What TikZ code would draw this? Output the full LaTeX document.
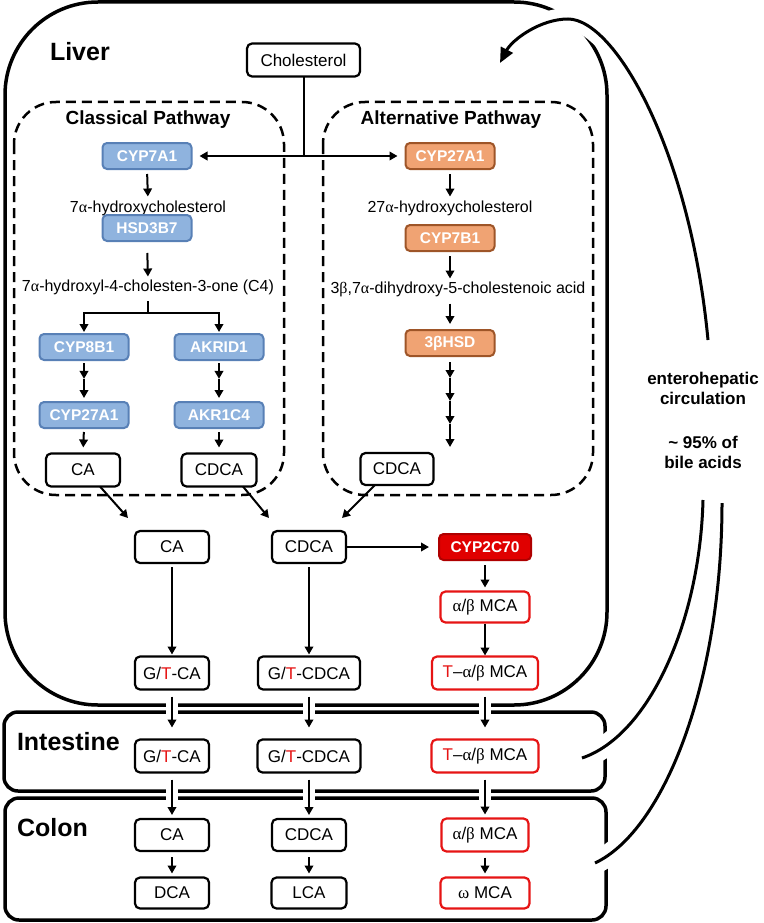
\documentclass[tikz,border=0pt]{standalone}
\usepackage{fontspec}
\setmainfont{Liberation Sans}
\newfontfamily\grkfont{Liberation Serif}
\usetikzlibrary{arrows.meta,calc}
\newcommand{\gal}{{\grkfont α}}
\newcommand{\gbe}{{\grkfont β}}
\newcommand{\gom}{{\grkfont ω}}
\definecolor{bluefill}{RGB}{143,179,222}
\definecolor{blueline}{RGB}{88,128,182}
\definecolor{orfill}{RGB}{240,163,115}
\definecolor{orline}{RGB}{158,85,40}
\definecolor{redfill}{RGB}{224,0,0}
\definecolor{redline}{RGB}{175,0,0}
\definecolor{redtext}{RGB}{230,20,20}
\begin{document}
\begin{tikzpicture}[x=1pt,y=-1pt,
  every node/.style={inner sep=0pt,outer sep=0pt},
  region/.style={line width=3.5pt},
  dashbox/.style={line width=2.5pt,dash pattern=on 10pt off 6pt,rounded corners=42pt},
  bx/.style={draw,line width=2.2pt,rounded corners=5pt,fill=white,minimum width=74pt,minimum height=32pt,font=\fontsize{17}{20}\selectfont},
  redbx/.style={bx,draw=redtext},
  enz/.style={draw,line width=2pt,rounded corners=4.5pt,minimum width=89pt,minimum height=26pt,text=white,font=\fontsize{15.5}{18}\selectfont\bfseries},
  enzB/.style={enz,fill=bluefill,draw=blueline},
  enzO/.style={enz,fill=orfill,draw=orline},
  enzR/.style={enz,fill=redfill,draw=redline,minimum width=92pt},
  txt/.style={font=\fontsize{16}{19}\selectfont},
  hdr/.style={font=\fontsize{25}{30}\selectfont\bfseries},
  subhdr/.style={font=\fontsize{19}{23}\selectfont\bfseries},
  circtxt/.style={font=\fontsize{17}{20}\selectfont\bfseries,align=center},
  line/.style={line width=2pt},
  arr/.style={line width=2pt,-{Triangle[length=8pt,width=8.5pt]}},
  varr/.style={arr,shorten <=5pt,shorten >=4pt},
  harr/.style={arr,preaction={draw=white,line width=12pt,-}},
  halo/.style={draw=white,line width=22pt},
  circ/.style={line width=3pt},
  circarr/.style={circ,-{Triangle[length=15pt,width=13pt]}}
]
\useasboundingbox (0,0) rectangle (763,923);

% regions
\draw[region,rounded corners=93pt] (5,2) rectangle (607,705);
\draw[region,rounded corners=14pt] (4,712) rectangle (605,791);
\draw[region,rounded corners=14pt] (5,798) rectangle (606,920);
\draw[dashbox] (14,102) rectangle (284,495);
\draw[dashbox] (323,102) rectangle (593,495);

% circulation curves
\coordinate (topStart) at (708,340);
\coordinate (topPeak) at (568,19);
\coordinate (topEnd) at (500,63);
\coordinate (intOut) at (582,758);
\coordinate (intEnd) at (703,500);
\coordinate (colOut) at (595,863);
\coordinate (colEnd) at (722,503);
\path[halo] (topStart) .. controls (690,150) and (615,19) .. (topPeak) .. controls (540,19) and (512,40) .. (topEnd);
\path[halo] (intOut) .. controls (650,735) and (700,620) .. (intEnd);
\path[halo] (colOut) .. controls (665,830) and (722,680) .. (colEnd);
\draw[circarr] (topStart) .. controls (690,150) and (615,19) .. (topPeak) .. controls (540,19) and (512,40) .. (topEnd);
\draw[circ] (intOut) .. controls (650,735) and (700,620) .. (intEnd);
\draw[circ] (colOut) .. controls (665,830) and (722,680) .. (colEnd);

\node[circtxt] (circA) at (703,388) {enterohepatic\\circulation};
\node[circtxt] (circB) at (703,452) {\textasciitilde{} 95\% of\\bile acids};

% headers
\node[hdr,anchor=base west] (liver) at (50,61) {Liver};
\node[hdr,anchor=base west] (intestine) at (17,750) {Intestine};
\node[hdr,anchor=base west] (colon) at (17,836) {Colon};
\node[subhdr] (classical) at (148,120) {Classical Pathway};
\node[subhdr] (alternative) at (451,120) {Alternative Pathway};

% top
\node[bx,minimum width=113pt,minimum height=33pt] (chol) at (303.5,60) {Cholesterol};
\coordinate (split) at (303.5,156);

% classical pathway
\node[enzB] (cyp7a1) at (147,156) {CYP7A1};
\node[txt] (h7) at (148,208) {7\gal-hydroxycholesterol};
\node[enzB] (hsd3b7) at (147,228) {HSD3B7};
\node[txt] (c4) at (148,287) {7\gal-hydroxyl-4-cholesten-3-one (C4)};
\coordinate (c4split) at (148,313);
\node[enzB] (cyp8b1) at (84,347) {CYP8B1};
\node[enzB] (akrid1) at (219,347) {AKRID1};
\node[enzB] (cyp27c) at (84,415) {CYP27A1};
\node[enzB] (akr1c4) at (219,415) {AKR1C4};
\node[bx,minimum height=33pt] (ca1) at (83,470) {CA};
\node[bx,minimum width=75pt,minimum height=33pt] (cdca1) at (219,470) {CDCA};

% alternative pathway
\node[enzO] (cyp27a) at (450,156) {CYP27A1};
\node[txt] (h27) at (450,208) {27\gal-hydroxycholesterol};
\node[enzO] (cyp7b1) at (450,238) {CYP7B1};
\node[txt] (acid) at (458,289) {3\gbe,7\gal-dihydroxy-5-cholestenoic acid};
\node[enzO] (hsd3b) at (450,343) {3βHSD};
\node[bx,minimum width=73pt] (cdca2) at (397,469) {CDCA};
\coordinate (a0) at ($(hsd3b.south)+(0,6)$);
\coordinate (a1) at (450,378);
\coordinate (a2) at (450,401);
\coordinate (a3) at (450,424);
\coordinate (a4) at (450,447);

% liver lower part
\node[bx] (ca2) at (172,547) {CA};
\node[bx] (cdca3) at (309,547) {CDCA};
\node[enzR] (cyp2c70) at (485,547) {CYP2C70};
\node[redbx,minimum width=89pt,minimum height=31pt] (mca1) at (485,607) {\gal/\gbe{} MCA};
\node[bx,minimum height=33pt] (gtca1) at (172,673) {G/\textcolor{redtext}{T}-CA};
\node[bx,minimum width=102pt,minimum height=33pt] (gtcdca1) at (309,673) {G/\textcolor{redtext}{T}-CDCA};
\node[redbx,minimum width=106pt,minimum height=33pt] (tmca1) at (485,673) {\textcolor{redtext}{T}–\gal/\gbe{} MCA};

% intestine
\node[bx,minimum height=33pt] (gtca2) at (172,756) {G/\textcolor{redtext}{T}-CA};
\node[bx,minimum width=103pt,minimum height=33pt] (gtcdca2) at (309,756) {G/\textcolor{redtext}{T}-CDCA};
\node[redbx,minimum width=107pt,minimum height=33pt] (tmca2) at (485,756) {\textcolor{redtext}{T}–\gal/\gbe{} MCA};

% colon
\node[bx] (ca3) at (172,835) {CA};
\node[bx] (cdca4) at (309,835) {CDCA};
\node[redbx,minimum width=87pt,minimum height=33pt] (mca2) at (485,835) {\gal/\gbe{} MCA};
\node[bx,minimum height=31pt] (dca) at (172,893) {DCA};
\node[bx,minimum width=75pt,minimum height=31pt] (lca) at (309,893) {LCA};
\node[redbx,minimum width=89pt,minimum height=31pt] (wmca) at (485,893) {\gom{} MCA};

% connectors: top
\draw[line] (chol.south) -- (split);
\draw[arr,shorten >=8pt] (split) -- (cyp7a1.east);
\draw[arr,shorten >=8pt] (split) -- (cyp27a.west);

% classical
\draw[varr] (cyp7a1.south) -- (h7.north);
\draw[varr,shorten <=12pt,shorten >=3pt] (hsd3b7.south) -- (c4.north);
\draw[line] ($(c4.south)+(0,7)$) -- (c4split);
\draw[arr,shorten >=2pt] (c4split) -| (cyp8b1.north);
\draw[arr,shorten >=2pt] (c4split) -| (akrid1.north);
\coordinate (m1) at ($(cyp8b1.south)!0.45!(cyp27c.north)$);
\coordinate (m2) at ($(akrid1.south)!0.45!(akr1c4.north)$);
\draw[arr,shorten <=3pt] (cyp8b1.south) -- (m1);
\draw[arr,shorten >=4pt] (m1) -- (cyp27c.north);
\draw[arr,shorten <=3pt] (akrid1.south) -- (m2);
\draw[arr,shorten >=4pt] (m2) -- (akr1c4.north);
\draw[arr,shorten <=4pt,shorten >=6pt] (cyp27c.south) -- (ca1.north);
\draw[arr,shorten <=4pt,shorten >=6pt] (akr1c4.south) -- (cdca1.north);

% alternative
\draw[varr] (cyp27a.south) -- (h27.north);
\draw[varr,shorten >=3pt] (cyp7b1.south) -- (cyp7b1.south |- acid.north);
\draw[varr,shorten <=7pt,shorten >=6pt] (hsd3b.north |- acid.south) -- (hsd3b.north);
\draw[arr] (a0) -- (a1);
\draw[arr] (a1) -- (a2);
\draw[arr] (a2) -- (a3);
\draw[arr] (a3) -- (a4);

% into lower liver
\draw[arr] ($(ca1.south)+(17,0)$) -- ($(ca2.north west)+(-7,-13)$);
\draw[arr] ($(cdca1.south)+(24,0)$) -- ($(cdca3.north west)+(-3,-13)$);
\draw[arr] ($(cdca2.south)+(-22,0)$) -- ($(cdca3.north east)+(-4,-13)$);
\draw[arr,shorten >=10pt] (cdca3.east) -- (cyp2c70.west);
\draw[varr] (cyp2c70.south) -- (mca1.north);
\draw[arr,shorten <=1pt,shorten >=1pt] (mca1.south) -- (tmca1.north);
\draw[arr,shorten <=4pt,shorten >=2pt] (ca2.south) -- (gtca1.north);
\draw[arr,shorten <=4pt,shorten >=2pt] (cdca3.south) -- (gtcdca1.north);

% liver -> intestine -> colon
\draw[harr] ($(gtca1.south)+(0,7)$) -- ($(gtca2.north)+(0,-12)$);
\draw[harr] ($(gtcdca1.south)+(0,7)$) -- ($(gtcdca2.north)+(0,-12)$);
\draw[harr] ($(tmca1.south)+(0,7)$) -- ($(tmca2.north)+(0,-12)$);
\draw[harr] ($(gtca2.south)+(0,7)$) -- ($(ca3.north)+(0,-4)$);
\draw[harr] ($(gtcdca2.south)+(0,7)$) -- ($(cdca4.north)+(0,-4)$);
\draw[harr] ($(tmca2.south)+(0,7)$) -- ($(mca2.north)+(0,-4)$);

% colon conversions
\draw[arr,shorten <=6pt,shorten >=4pt] (ca3.south) -- (dca.north);
\draw[arr,shorten <=6pt,shorten >=4pt] (cdca4.south) -- (lca.north);
\draw[arr,shorten <=6pt,shorten >=4pt] (mca2.south) -- (wmca.north);
\end{tikzpicture}
\end{document}
